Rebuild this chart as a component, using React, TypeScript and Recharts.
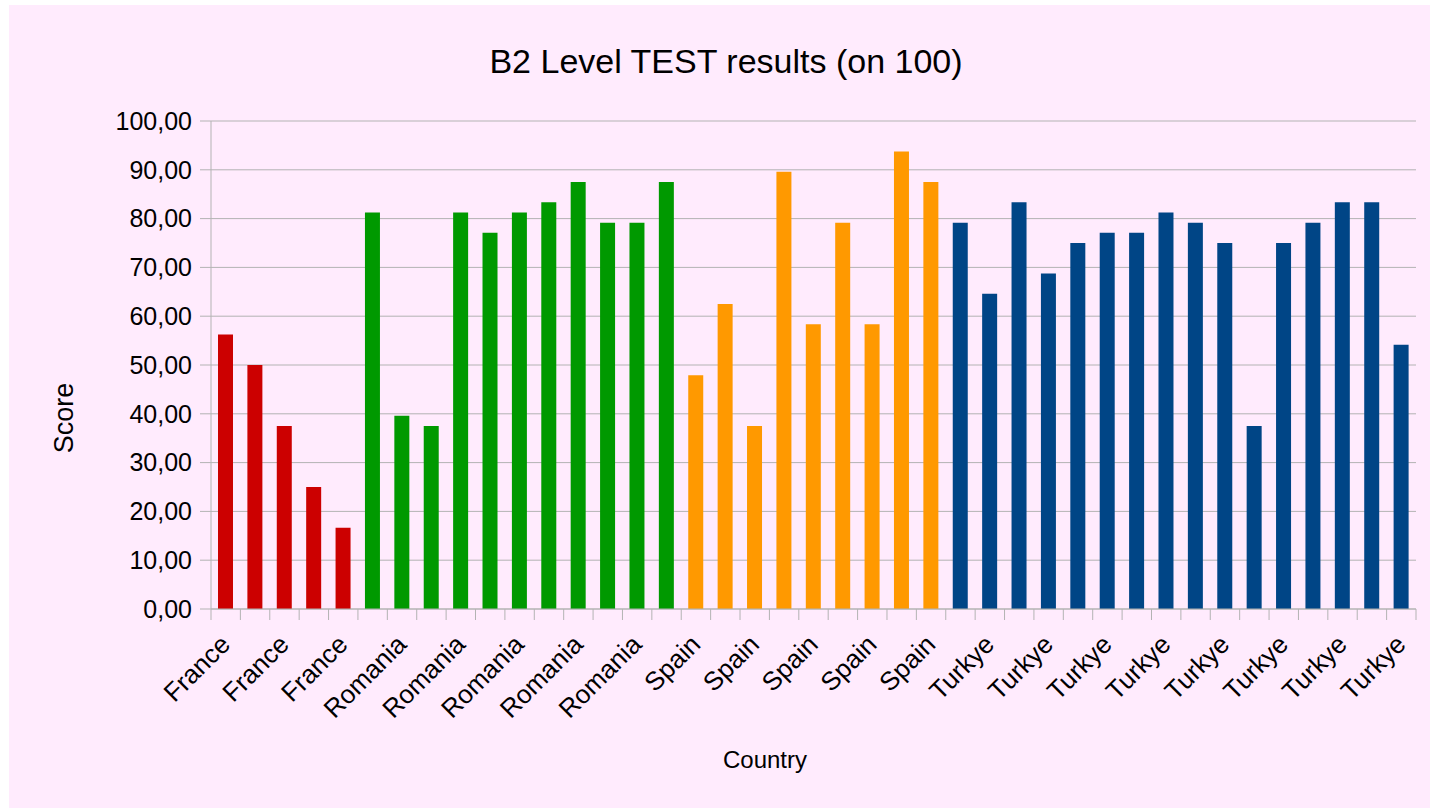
import { BarChart, Bar, XAxis, YAxis, CartesianGrid, Cell } from 'recharts';

const COUNTRIES = ['France', 'Romania', 'Spain', 'Turkye'];

const FRANCE = [56.25, 50, 37.5, 25, 16.67];
const ROMANIA = [81.25, 39.58, 37.5, 81.25, 77.08, 81.25, 83.33, 87.5, 79.17, 79.17, 87.5];
const SPAIN = [47.92, 62.5, 37.5, 89.58, 58.33, 79.17, 58.33, 93.75, 87.5];
const TURKYE = [79.17, 64.58, 83.33, 68.75, 75, 77.08, 77.08, 81.25, 79.17, 75, 37.5, 75, 79.17, 83.33, 83.33, 54.17];

const Y_TICKS = [0, 10, 20, 30, 40, 50, 60, 70, 80, 90, 100];

const COUNTRY_COLORS: Record<string, string> = {
  France: '#cc0000',
  Romania: '#009900',
  Spain: '#ff9900',
  Turkye: '#004586',
};

const SCORES = [FRANCE, ROMANIA, SPAIN, TURKYE];
const chartData = COUNTRIES.flatMap((name, i) => SCORES[i].map((score) => ({ name, score })));

const FONT = '"Liberation Sans", Arial, sans-serif';
const GRID = '#b3b3b3';
const CHART_W = 1421;
const CHART_H = 803;
const MARGIN = { top: 116, right: 14, bottom: 0, left: 0 };
const Y_AXIS_W = 202;
const HALF_BAND = (CHART_W - MARGIN.right - Y_AXIS_W) / chartData.length / 2;

const fmt = (v: number) => v.toFixed(2).replace('.', ',');

// ticks sit on category boundaries, labels on every other category
function CountryTick(props: any) {
  const { x, y, payload, index } = props;
  const half = payload?.offset || HALF_BAND;
  const tx = x + 6;
  const ty = y + 37;
  return (
    <g>
      <line x1={x - half} x2={x - half} y1={y} y2={y + 11} stroke={GRID} />
      {index === chartData.length - 1 && (
        <line x1={x + half} x2={x + half} y1={y} y2={y + 11} stroke={GRID} />
      )}
      {index % 2 === 0 && (
        <text
          x={tx}
          y={ty}
          transform={`rotate(-45 ${tx} ${ty})`}
          textAnchor="end"
          fontSize={26}
          fill="#000"
        >
          {payload.value}
        </text>
      )}
    </g>
  );
}

export default function App() {
  return (
    <div style={{ position: 'absolute', left: 0, top: 0, width: 1430, height: 808, fontFamily: FONT }}>
      <div style={{ position: 'absolute', left: 9, top: 5, width: CHART_W, height: CHART_H, background: '#ffebfd' }}>
        <BarChart width={CHART_W} height={CHART_H} data={chartData} margin={MARGIN}>
          <CartesianGrid vertical={false} stroke={GRID} yAxisId="left" />
          <XAxis
            dataKey="name"
            interval={0}
            height={199}
            tickSize={0}
            tickMargin={0}
            tickLine={false}
            axisLine={{ stroke: GRID }}
            tick={<CountryTick />}
          />
          <YAxis
            yAxisId="left"
            width={Y_AXIS_W}
            domain={[0, 100]}
            ticks={Y_TICKS}
            tickFormatter={fmt}
            tickSize={11}
            tickMargin={8}
            axisLine={{ stroke: GRID }}
            tickLine={{ stroke: GRID }}
            tick={{ fill: '#000', fontSize: 25 }}
          />
          <YAxis
            yAxisId="right"
            orientation="right"
            width={0}
            domain={[0, 100]}
            tick={false}
            tickLine={false}
            axisLine={{ stroke: GRID }}
          />
          <Bar dataKey="score" yAxisId="left" barSize={15} isAnimationActive={false}>
            {chartData.map((entry, index) => (
              <Cell key={index} fill={COUNTRY_COLORS[entry.name]} />
            ))}
          </Bar>
        </BarChart>
      </div>
      <div
        style={{
          position: 'absolute',
          left: 226,
          width: 1000,
          top: 44,
          textAlign: 'center',
          fontSize: 34,
          lineHeight: 1,
          color: '#000',
        }}
      >
        B2 Level TEST results (on 100)
      </div>
      <div
        style={{
          position: 'absolute',
          left: 565,
          width: 400,
          top: 748,
          textAlign: 'center',
          fontSize: 24,
          lineHeight: 1,
          color: '#000',
        }}
      >
        Country
      </div>
      <div
        style={{
          position: 'absolute',
          left: 64 - 100,
          width: 200,
          top: 418 - 14,
          textAlign: 'center',
          fontSize: 27,
          lineHeight: '28px',
          color: '#000',
          transform: 'rotate(-90deg)',
        }}
      >
        Score
      </div>
    </div>
  );
}
